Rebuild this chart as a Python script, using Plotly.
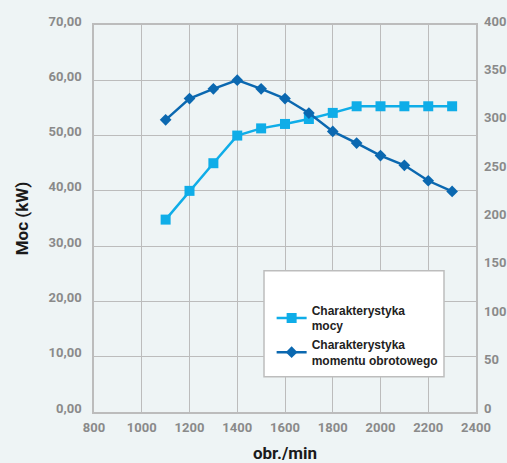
import plotly.graph_objects as go

rpm = [1100, 1200, 1300, 1400, 1500, 1600, 1700, 1800, 1900, 2000, 2100, 2200, 2300]
power_kw = [34.8, 40.0, 45.0, 50.0, 51.3, 52.1, 53.0, 54.1, 55.3, 55.3, 55.3, 55.3, 55.3]
torque_nm = [302, 324, 334, 343, 334, 324, 309, 290, 278, 265, 255, 239, 228]

left_ticks = [0, 10, 20, 30, 40, 50, 60, 70]
left_labels = ["0,00", "10,00", "20,00", "30,00", "40,00", "50,00", "60,00", "70,00"]
right_ticks = [0, 50, 100, 150, 200, 250, 300, 350, 400]
x_ticks = [800, 1000, 1200, 1400, 1600, 1800, 2000, 2200, 2400]

name_power = "Charakterystyka<br>mocy"
name_torque = "Charakterystyka<br>momentu obrotowego"

c_power = "#0fade8"
c_torque = "#0b68b0"
bg = "#eef4f5"
grid = "#bcbcbc"
tick_col = "#8a8a8a"

fig = go.Figure()
fig.add_trace(go.Scatter(x=rpm, y=power_kw, name=name_power, mode="lines+markers",
                         line=dict(color=c_power, width=2.5),
                         marker=dict(symbol="square", size=10, color=c_power)))
fig.add_trace(go.Scatter(x=rpm, y=torque_nm, name=name_torque, mode="lines+markers", yaxis="y2",
                         line=dict(color=c_torque, width=2.5),
                         marker=dict(symbol="diamond", size=9, color=c_torque)))

tickfont = dict(family="Roboto", size=13, color=tick_col, weight="bold")

fig.update_layout(
    width=507, height=463,
    margin=dict(l=94, r=31, t=25, b=51, autoexpand=False),
    paper_bgcolor=bg, plot_bgcolor=bg,
    showlegend=True,
    xaxis=dict(range=[800, 2400], tickvals=x_ticks, showgrid=True, gridcolor=grid, gridwidth=1,
               showline=True, linecolor=grid, linewidth=1.5, mirror=True, zeroline=False,
               tickfont=tickfont, ticks="", ticklen=0, automargin=False, ticklabelstandoff=3,
               title=dict(text="obr./min", font=dict(family="Roboto", size=17, color="#1a1a1a", weight="bold"), standoff=14)),
    yaxis=dict(range=[0, 70], tickvals=left_ticks, ticktext=left_labels, showgrid=True, gridcolor=grid,
               showline=True, linecolor=grid, linewidth=1.5, mirror=True, zeroline=False,
               tickfont=tickfont, ticks="", ticklabelstandoff=8, ticklabelshift=-4, automargin=False,
               title=dict(text="Moc (kW)", font=dict(family="Roboto", size=17, color="#1a1a1a", weight="bold"), standoff=16)),
    yaxis2=dict(range=[0, 400], tickvals=right_ticks, overlaying="y", side="right", showgrid=False,
                zeroline=False, showline=False, tickfont=tickfont, ticks="", ticklabelstandoff=7,
                ticklabelshift=-4, automargin=False),
    legend=dict(x=0.465, y=0.30, xanchor="left", yanchor="top", bgcolor="rgba(0,0,0,0)",
                borderwidth=0, font=dict(family="Arial", size=12, color="#222222", weight="bold"),
                tracegroupgap=8, itemwidth=30),
    shapes=[dict(type="rect", xref="paper", yref="paper", x0=(264-94)/382, x1=(444-94)/382,
                 y0=(412.3-377)/387.3, y1=(412.3-271)/387.3, fillcolor="white",
                 line=dict(color="#bdbdbd", width=1.5), layer="above")],
)

fig.write_html("out.html", config={"displayModeBar": False},
               post_script="document.body.style.margin='0';document.body.style.overflow='hidden';")
